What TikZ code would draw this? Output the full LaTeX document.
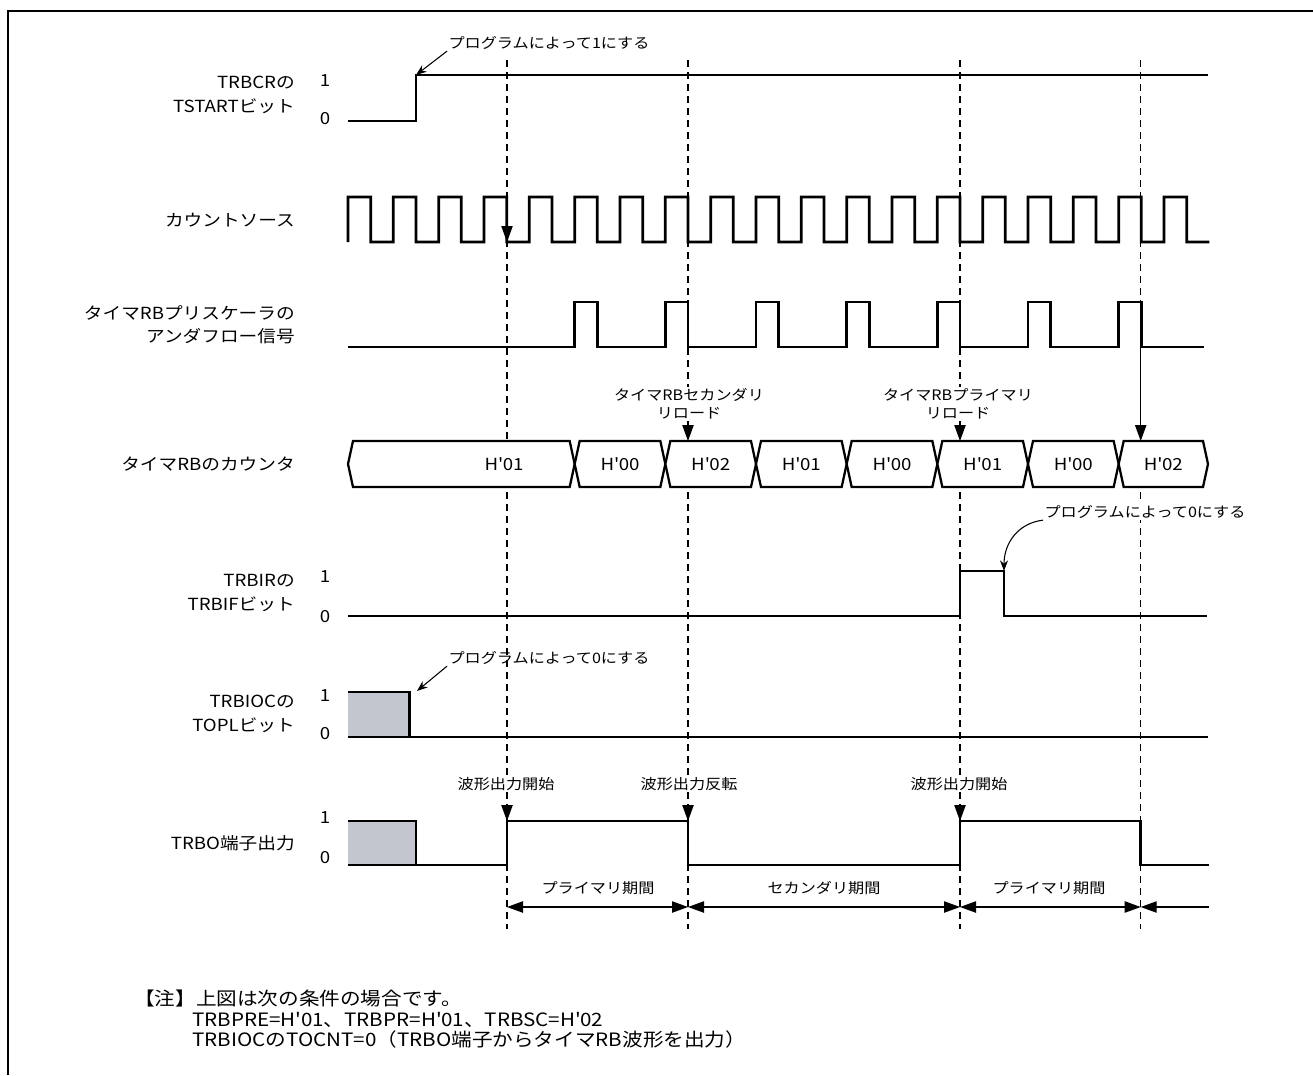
\documentclass[tikz,border=0pt]{standalone}
\usepackage{fontspec}
\setmainfont{Noto Sans CJK JP}[FakeStretch=1.12]
\usetikzlibrary{positioning,arrows.meta}

\definecolor{boxgray}{RGB}{195,198,206}
\newcommand\clkper{45.333}
\newcommand\hx[1]{H\textquotesingle#1}

\tikzset{
    sig/.style={line width=2.1pt, line join=miter},
    bus/.style={line width=1.7pt, line join=miter, fill=white},
    guide/.style={line width=0.9pt, dash pattern=on 5pt off 4pt},
    lbl/.style={font=\fontsize{12.5}{17.5}\selectfont, align=right, anchor=east, inner sep=0pt},
    lvl/.style={font=\fontsize{12.5}{15}\selectfont, inner sep=0pt},
    ann/.style={font=\fontsize{10.8}{13.5}\selectfont, inner sep=1pt, align=center},
    notetext/.style={font=\fontsize{13.8}{16}\selectfont, anchor=west, inner sep=0pt},
    callout/.style={line width=0.8pt, -{Stealth[length=8pt,width=6pt]}},
    tipdown/.style={line width=0.9pt, -{Triangle[length=12pt,width=8.5pt]}},
    spanarrow/.style={line width=0.9pt, {Triangle[length=12pt,width=8.5pt]}-{Triangle[length=12pt,width=8.5pt]}},
}

\begin{document}
\begin{tikzpicture}[x=0.75pt, y=-0.75pt]
    \useasboundingbox (0,0) rectangle (1313,1075);

    % cornice
    \draw[line width=2.1pt] (8,1075) -- (8,11) -- (1313,11);

    % linee guida tratteggiate
    \foreach \x in {507,688,960,1140.7}
        \draw[guide] (\x,60) -- (\x,929);

    % nomi dei segnali
    \node[lbl] (tstartlbl) at (295,95) {TRBCRの\\TSTARTビット};
    \node[lbl] (clklbl) at (295,220) {カウントソース};
    \node[lbl] (prelbl) at (295,325) {タイマRBプリスケーラの\\アンダフロー信号};
    \node[lbl] (cntlbl) at (295,464) {タイマRBのカウンタ};
    \node[lbl] (iflbl) at (295,593) {TRBIRの\\TRBIFビット};
    \node[lbl] (topllbl) at (295,714) {TRBIOCの\\TOPLビット};
    \node[lbl] (outlbl) at (295,843) {TRBO端子出力};

    \foreach \n/\y/\t in {a/81/1, b/119/0, c/577/1, d/617/0, e/696/1, f/734/0, g/818/1, h/858/0}
        \node[lvl] (lv\n) at (325,\y) {\t};

    % TSTART
    \draw[sig] (348,121) -- (416,121) -- (416,75) -- (1208,75);
    \coordinate (tsrise) at (416,75);
    \node[ann, anchor=west] (set1) at (447,43) {プログラムによって1にする};
    \draw[callout] (set1.south west) -- (tsrise);

    % sorgente di conteggio
    \draw[sig] (348,242) \foreach \k in {0,...,18} {
        -- ({348+\k*\clkper},197) -- ({370.67+\k*\clkper},197)
        -- ({370.67+\k*\clkper},242) -- ({393.33+\k*\clkper},242) };
    \coordinate (clktip) at (507,242);
    \draw[tipdown] ([yshift=13pt]clktip) -- (clktip);

    % underflow del prescaler
    \draw[sig] (348,347) \foreach \k in {5,7,...,17} {
        -- ({348+\k*\clkper},347) -- ({348+\k*\clkper},302)
        -- ({370.67+\k*\clkper},302) -- ({370.67+\k*\clkper},347) } -- (1204,347);
    \coordinate (ufl) at (1140.7,347);

    % contatore
    \foreach \a/\b/\v/\lx [count=\i] in {348/574.67/01/504, 574.67/665.33/00/620,
        665.33/756/02/710.7, 756/846.67/01/801.3, 846.67/937.33/00/892,
        937.33/1028/01/982.7, 1028/1118.67/00/1073.3, 1118.67/1208/02/1163.3} {
        \draw[bus] (\a,464) -- ({\a+5},441) -- ({\b-5},441) -- (\b,464)
            -- ({\b-5},487) -- ({\a+5},487) -- cycle;
        \node[lvl] (cnt\i) at (\lx,464) {\hx{\v}};
    }
    \coordinate (cnttip) at (1140.7,441);
    \draw[tipdown] (ufl) -- (cnttip);

    \node[ann, fill=white] (secrl) at (689,404) {タイマRBセカンダリ\\リロード};
    \node[ann, fill=white] (prirl) at (958,404) {タイマRBプライマリ\\リロード};
    \coordinate (secrltip) at (688,441);
    \coordinate (prirltip) at (960,441);
    \draw[tipdown] ([yshift=13pt]secrltip) -- (secrltip);
    \draw[tipdown] ([yshift=13pt]prirltip) -- (prirltip);

    % TRBIF
    \draw[sig] (348,616) -- (960,616) -- (960,571) -- (1004,571) -- (1004,616) -- (1207,616);
    \coordinate (iffall) at (1004,571);
    \node[ann, anchor=west, fill=white] (clr0b) at (1043,512) {プログラムによって0にする};
    \draw[callout] (clr0b.south west) .. controls +(-25,3) and +(0,-28) .. (iffall);

    % TOPL
    \fill[boxgray] (348,692) rectangle (409.5,737);
    \draw[sig] (348,692) -- (409.5,692) -- (409.5,737);
    \draw[sig] (348,737) -- (1208,737);
    \coordinate (toplcorner) at (417,691);
    \node[ann, anchor=west] (clr0a) at (447,658) {プログラムによって0にする};
    \draw[callout] (clr0a.south west) -- (toplcorner);

    % uscita TRBO
    \fill[boxgray] (348,821) rectangle (416,865);
    \draw[sig] (348,821) -- (416,821) -- (416,865);
    \draw[sig] (348,865) -- (507,865) -- (507,821) -- (688,821) -- (688,865)
        -- (960,865) -- (960,821) -- (1140.7,821) -- (1140.7,865) -- (1209,865);

    \node[ann, fill=white] (wstart1) at (506,784) {波形出力開始};
    \node[ann, fill=white] (winv) at (689,784) {波形出力反転};
    \node[ann, fill=white] (wstart2) at (959,784) {波形出力開始};
    \coordinate (wtip1) at (507,821);
    \coordinate (wtip2) at (688,821);
    \coordinate (wtip3) at (960,821);
    \foreach \w in {wtip1,wtip2,wtip3}
        \draw[tipdown] ([yshift=13pt]\w) -- (\w);

    % periodi
    \coordinate (p1) at (507,907);
    \coordinate (p2) at (688,907);
    \coordinate (p3) at (960,907);
    \coordinate (p4) at (1140.7,907);
    \coordinate (p5) at (1209,907);
    \draw[spanarrow] (p1) -- (p2);
    \draw[spanarrow] (p2) -- (p3);
    \draw[spanarrow] (p3) -- (p4);
    \draw[line width=0.9pt, {Triangle[length=12pt,width=8.5pt]}-] (p4) -- (p5);
    \node[ann] (prim1) at (598,888) {プライマリ期間};
    \node[ann] (sec1) at (824,888) {セカンダリ期間};
    \node[ann] (prim2) at (1049,888) {プライマリ期間};

    % nota
    \node[notetext] (note) at (134,998) {【注】上図は次の条件の場合です。};
    \node[notetext] (cond1) at (192,1020) {TRBPRE=\hx{01}、TRBPR=\hx{01}、TRBSC=\hx{02}};
    \node[notetext] (cond2) at (192,1039) {TRBIOCのTOCNT=0（TRBO端子からタイマRB波形を出力）};
\end{tikzpicture}
\end{document}
